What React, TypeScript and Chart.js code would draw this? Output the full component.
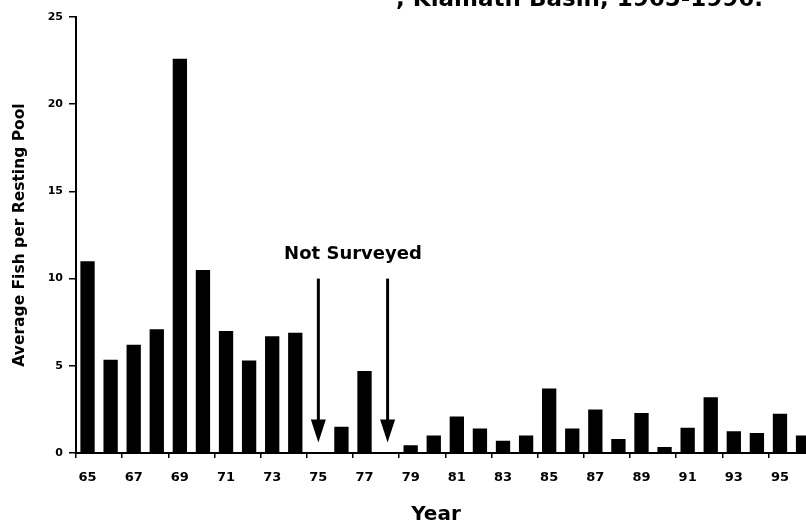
import React, { useEffect, useRef } from 'react';
import { Chart, registerables } from 'chart.js';

Chart.register(...registerables);

// ---- data ----
const years: string[] = [
  '65', '66', '67', '68', '69', '70', '71', '72', '73', '74', '75', '76', '77', '78', '79', '80',
  '81', '82', '83', '84', '85', '86', '87', '88', '89', '90', '91', '92', '93', '94', '95', '96',
];
const fishPerPool: (number | null)[] = [
  11.0, 5.35, 6.2, 7.1, 22.6, 10.5, 7.0, 5.3, 6.7, 6.9, null, 1.5, 4.7, null, 0.45, 1.0,
  2.1, 1.4, 0.7, 1.0, 3.7, 1.4, 2.5, 0.8, 2.3, 0.35, 1.45, 3.2, 1.25, 1.15, 2.25, 1.0,
];
const yMin = 0;
const yMax = 25;
const yStep = 5;
const notSurveyedYears: string[] = ['75', '78'];
const arrowFromValue = 10;
const arrowToValue = 0.6;
const noteText = 'Not Surveyed';
const noteValue = 11.4;
const titleText = ', Klamath Basin, 1965-1996.';
const yTitle = 'Average Fish per Resting Pool';
const xTitle = 'Year';

const FONT = '"DejaVu Sans", "Liberation Sans", Arial, sans-serif';

const annotations = {
  id: 'annotations',
  afterDatasetsDraw(chart: any) {
    const { ctx, scales } = chart;
    const xs = scales.x;
    const ys = scales.y;
    ctx.save();
    ctx.fillStyle = '#000';
    ctx.strokeStyle = '#000';
    const xsPix: number[] = [];
    notSurveyedYears.forEach((yr) => {
      const idx = years.indexOf(yr);
      const x = xs.getPixelForValue(idx);
      xsPix.push(x);
      const top = ys.getPixelForValue(arrowFromValue);
      const tip = ys.getPixelForValue(arrowToValue);
      const headH = 23;
      const headW = 15;
      ctx.lineWidth = 3;
      ctx.beginPath();
      ctx.moveTo(x, top);
      ctx.lineTo(x, tip - headH + 2);
      ctx.stroke();
      ctx.beginPath();
      ctx.moveTo(x - headW / 2, tip - headH);
      ctx.lineTo(x + headW / 2, tip - headH);
      ctx.lineTo(x, tip);
      ctx.closePath();
      ctx.fill();
    });
    const cx = (xsPix[0] + xsPix[xsPix.length - 1]) / 2;
    ctx.font = `bold 18px ${FONT}`;
    ctx.textAlign = 'center';
    ctx.textBaseline = 'middle';
    ctx.fillText(noteText, cx, ys.getPixelForValue(noteValue));

    // x-axis title, sitting slightly left of the plot-area centre as in the source
    ctx.font = `bold 20px ${FONT}`;
    ctx.textAlign = 'center';
    ctx.textBaseline = 'alphabetic';
    ctx.fillText(xTitle, 436, 520);

    // partially cropped figure title
    ctx.font = `bold 23px ${FONT}`;
    ctx.textAlign = 'right';
    ctx.textBaseline = 'alphabetic';
    ctx.fillText(titleText, 763, 6);
    ctx.restore();
  },
};

export default function App() {
  const ref = useRef<HTMLCanvasElement | null>(null);

  useEffect(() => {
    if (!ref.current) return;
    const chart = new Chart(ref.current, {
      type: 'bar',
      data: {
        labels: years,
        datasets: [
          {
            data: fishPerPool as any,
            backgroundColor: '#000',
            borderWidth: 0,
            barPercentage: 0.62,
            categoryPercentage: 1,
          },
        ],
      },
      options: {
        responsive: false,
        animation: false,
        devicePixelRatio: 1,
        layout: { padding: { top: 17, right: 15.4, left: 0, bottom: 0 } },
        plugins: {
          legend: { display: false },
          tooltip: { enabled: false },
          title: { display: false },
        },
        scales: {
          x: {
            type: 'category',
            offset: true,
            afterFit: (s: any) => {
              s.height = 72;
            },
            border: { display: true, color: '#000', width: 2 },
            grid: {
              offset: true,
              drawOnChartArea: false,
              tickLength: 5,
              lineWidth: 1.5,
              color: (c: any) => (c.index % 2 === 0 ? '#000' : 'rgba(0,0,0,0)'),
              tickColor: (c: any) => (c.index % 2 === 0 ? '#000' : 'rgba(0,0,0,0)'),
            },
            ticks: {
              autoSkip: false,
              maxRotation: 0,
              padding: 12,
              color: '#000',
              font: { family: FONT, size: 13, weight: 'bold' },
              callback: (_v: any, i: number) => (i % 2 === 0 ? years[i] : ''),
            },
            title: { display: false },
          },
          y: {
            min: yMin,
            max: yMax,
            afterFit: (s: any) => {
              s.width = 76;
            },
            border: { display: true, color: '#000', width: 2 },
            grid: {
              drawOnChartArea: false,
              tickLength: 7,
              color: '#000',
              tickColor: '#000',
              lineWidth: 1.5,
            },
            ticks: {
              stepSize: yStep,
              padding: 6,
              color: '#000',
              font: { family: FONT, size: 11, weight: 'bold' },
            },
            title: {
              display: true,
              text: yTitle,
              color: '#000',
              font: { family: FONT, size: 15.5, weight: 'bold' },
              padding: { top: 10.5, bottom: 0 },
            },
          },
        },
      },
      plugins: [annotations],
    });
    return () => chart.destroy();
  }, []);

  return (
    <div
      style={{
        position: 'fixed',
        left: 0,
        top: 0,
        width: 806,
        height: 525,
        overflow: 'hidden',
        background: '#fff',
      }}
    >
      <canvas ref={ref} width={830} height={525} style={{ display: 'block' }} />
    </div>
  );
}
